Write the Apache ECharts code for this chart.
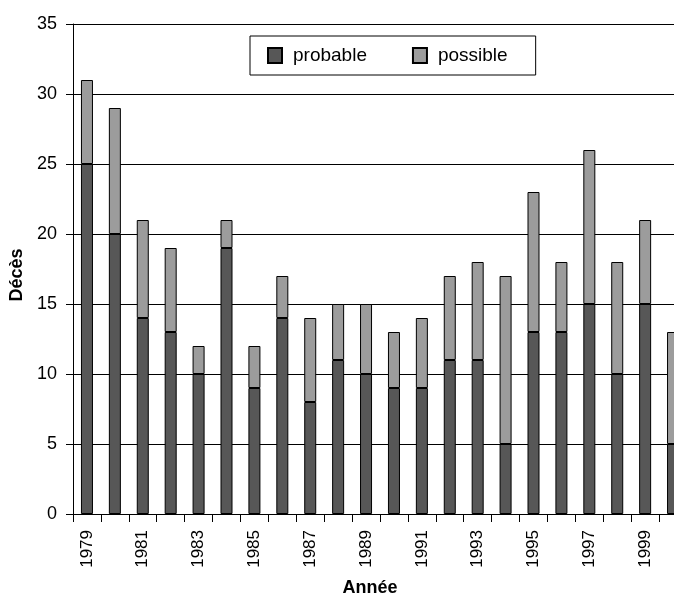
<!DOCTYPE html>
<html>
<head>
<meta charset="utf-8">
<script src="https://cdn.jsdelivr.net/npm/echarts@6/dist/echarts.min.js"></script>
<style>html,body{margin:0;padding:0;background:#fff;}#c{width:674px;height:596px;}</style>
</head>
<body>
<div id="c"></div>
<script>
const years = ['1979','1980','1981','1982','1983','1984','1985','1986','1987','1988','1989','1990','1991','1992','1993','1994','1995','1996','1997','1998','1999','2000'];
const probable = [25,20,14,13,10,19,9,14,8,11,10,9,9,11,11,5,13,13,15,10,15,5];
const possible = [6,9,7,6,2,2,3,3,6,4,5,4,5,6,7,12,10,5,11,8,6,8];
const yTicks = {min:0, max:35, interval:5};

const chart = echarts.init(document.getElementById('c'));
const font = 'Liberation Sans, Arial, Helvetica, sans-serif';
chart.setOption({
  animation: false,
  textStyle: {fontFamily: font, color: '#000'},
  grid: {left: 73, top: 24, right: -13, bottom: 82, containLabel: false, outerBoundsMode: 'none'},
  legend: {
    left: 250, top: 36,
    padding: [10, 28, 10, 17],
    borderColor: '#000', borderWidth: 1,
    itemWidth: 14, itemHeight: 15, itemGap: 45,
    icon: 'rect',
    textStyle: {fontSize: 19, color: '#000', fontFamily: font, padding: [0,0,0,6]},
    data: ['probable','possible']
  },
  xAxis: {
    type: 'category', data: years,
    name: 'Année', nameLocation: 'middle', nameGap: 65,
    nameTextStyle: {fontWeight: 'bold', fontSize: 18, color: '#000', padding: [0, 20, 0, 0]},
    axisLine: {lineStyle: {color: '#000', width: 1}},
    axisTick: {show: true, length: 8, interval: 0, lineStyle: {color: '#000'}},
    axisLabel: {rotate: 90, interval: 1, fontSize: 17, margin: 16, color: '#000'}
  },
  yAxis: {
    type: 'value', min: yTicks.min, max: yTicks.max, interval: yTicks.interval,
    name: 'Décès', nameLocation: 'middle', nameGap: 38,
    nameTextStyle: {fontWeight: 'bold', fontSize: 18, color: '#000', padding: [0, 12, 0, 0]},
    axisLine: {show: true, lineStyle: {color: '#000', width: 1}},
    axisTick: {show: true, length: 7, lineStyle: {color: '#000'}},
    axisLabel: {fontSize: 18, margin: 16, color: '#000'},
    splitLine: {lineStyle: {color: '#000', width: 1}}
  },
  series: [
    {name: 'probable', type: 'bar', stack: 't', data: probable, barWidth: 12,
     itemStyle: {color: '#575757', borderColor: '#000', borderWidth: 1}},
    {name: 'possible', type: 'bar', stack: 't', data: possible, barWidth: 12,
     itemStyle: {color: '#9c9c9c', borderColor: '#000', borderWidth: 1}}
  ]
});
</script>
</body>
</html>
